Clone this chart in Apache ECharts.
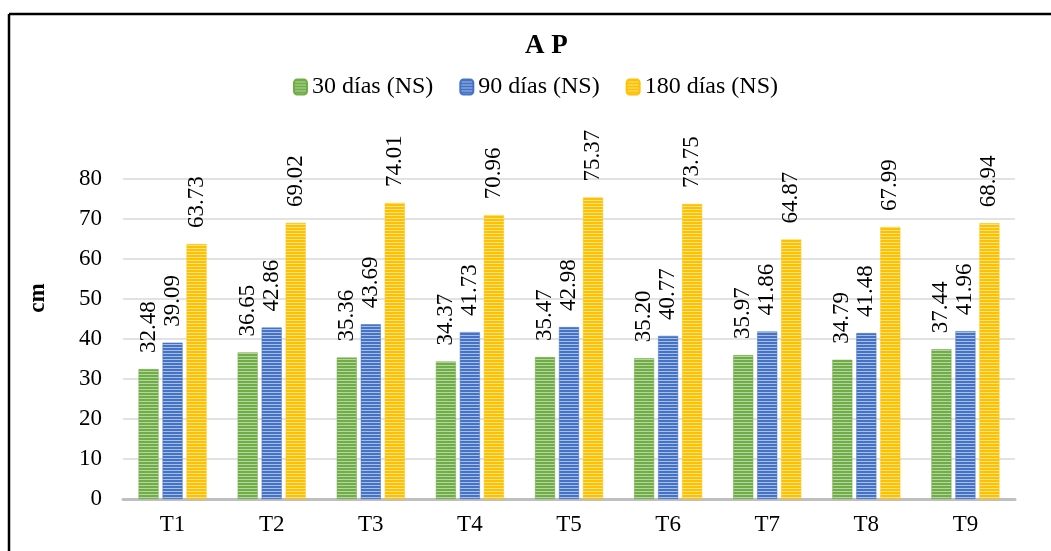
<!DOCTYPE html>
<html>
<head>
<meta charset="utf-8">
<script src="https://cdn.jsdelivr.net/npm/echarts@6/dist/echarts.min.js"></script>
<style>
html,body{margin:0;padding:0;background:#fff;}
#chart{width:1051px;height:551px;}
</style>
</head>
<body>
<div id="chart"></div>
<script>
const categories = ['T1','T2','T3','T4','T5','T6','T7','T8','T9'];
const seriesNames = ['30 días (NS)','90 días (NS)','180 días (NS)'];
const d30 = [32.48, 36.65, 35.36, 34.37, 35.47, 35.20, 35.97, 34.79, 37.44];
const d90 = [39.09, 42.86, 43.69, 41.73, 42.98, 40.77, 41.86, 41.48, 41.96];
const d180 = [63.73, 69.02, 74.01, 70.96, 75.37, 73.75, 64.87, 67.99, 68.94];
const yTicks = [0,10,20,30,40,50,60,70,80];

const FONT = 'Liberation Serif, Times New Roman, serif';

function stripe(base, light){
  const c = document.createElement('canvas');
  c.width = 4; c.height = 3;
  const g = c.getContext('2d');
  g.fillStyle = base; g.fillRect(0,0,4,3);
  g.fillStyle = light; g.fillRect(0,2,4,1);
  return {image: c, repeat: 'repeat'};
}
const colors = [
  {base:'#70AD47', light:'#B5D6A0'},
  {base:'#4472C4', light:'#A9BDE6'},
  {base:'#FFC000', light:'#FFE38A'}
];

const chart = echarts.init(document.getElementById('chart'));
const datasets = [d30, d90, d180];
const series = datasets.map((d, i) => ({
  name: seriesNames[i],
  type: 'bar',
  data: d,
  barWidth: 20,
  barGap: '20%',
  itemStyle: { color: stripe(colors[i].base, colors[i].light), borderColor: colors[i].base, borderWidth: 0.5 },
  label: {
    show: true,
    position: 'top',
    rotate: 90,
    align: 'left',
    verticalAlign: 'middle',
    distance: 16,
    fontFamily: FONT,
    fontSize: 23,
    color: '#000',
    formatter: p => p.value.toFixed(2)
  }
}));

chart.setOption({
  animation: false,
  title: {
    text: 'A P',
    left: 520, top: 28,
    textStyle: { fontFamily: FONT, fontSize: 27, fontWeight: 'bold', color: '#000' }
  },
  legend: {
    data: seriesNames,
    left: 288, top: 70,
    itemWidth: 13, itemHeight: 15,
    itemGap: 26,
    textStyle: { fontFamily: FONT, fontSize: 24, color: '#000' }
  },
  grid: { left: 123, right: 36, top: 179, bottom: 52 },
  xAxis: {
    type: 'category',
    data: categories,
    axisLine: { lineStyle: { color: '#BFBFBF', width: 3 } },
    axisTick: { show: false },
    axisLabel: { fontFamily: FONT, fontSize: 23, color: '#000', margin: 14 }
  },
  yAxis: {
    type: 'value',
    min: yTicks[0], max: yTicks[yTicks.length-1], interval: 10,
    axisLine: { show: false },
    axisTick: { show: false },
    splitLine: { lineStyle: { color: '#D9D9D9', width: 1.5 } },
    axisLabel: { fontFamily: FONT, fontSize: 23, color: '#000', margin: 21 }
  },
  graphic: [
    { type: 'line', shape: { x1: 9, y1: 14, x2: 1051, y2: 14 }, style: { stroke: '#000', lineWidth: 2.5 } },
    { type: 'line', shape: { x1: 9, y1: 14, x2: 9, y2: 551 }, style: { stroke: '#000', lineWidth: 2.5 } },
    { type: 'text', x: 38, y: 298, rotation: Math.PI/2,
      style: { text: 'cm', font: 'bold 23px ' + FONT, fill: '#000', textAlign: 'center', textVerticalAlign: 'middle' } }
  ],
  series: series
});
</script>
</body>
</html>
